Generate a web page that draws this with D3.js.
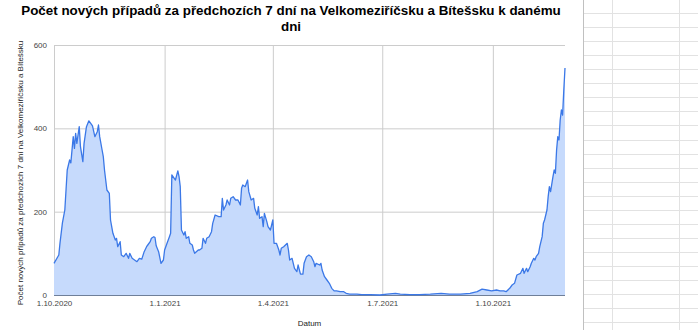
<!DOCTYPE html>
<html>
<head>
<meta charset="utf-8">
<script src="https://cdn.jsdelivr.net/npm/d3@7.9.0/dist/d3.min.js"></script>
<style>
  body { margin: 0; background: #fff; }
  svg { display: block; font-family: Arial, "Liberation Sans", sans-serif; }
</style>
</head>
<body>
<svg id="chart" width="698" height="330"></svg>
<script>
const titleLines = ['Počet nových případů za předchozích 7 dní na Velkomeziříčsku a Bítešsku k danému', 'dni'];
const xTitle = 'Datum';
const yTitle = 'Počet nových případů za předchozích 7 dní na Velkomeziříčsku a Bítešsku';

// days counted from 1.10.2020
const startDate = new Date(2020, 9, 1);
const dayOffset = [
  0, 4, 5, 7, 9, 10, 11, 13, 14, 16, 17, 18, 19, 21, 22, 24, 25, 27, 29, 31,
  32, 34, 36, 37, 38, 40, 41, 42, 44, 46, 47, 49, 51, 52, 53, 55, 56, 58, 60, 62,
  63, 65, 67, 69, 71, 73, 75, 77, 78, 80, 81, 83, 84, 85, 87, 89, 91, 92, 94, 96,
  97, 98, 100, 101, 103, 104, 105, 106, 108, 109, 110, 112, 113, 115, 116, 117, 120, 121, 123, 124,
  126, 127, 129, 131, 132, 134, 137, 139, 140, 141, 143, 144, 146, 147, 149, 151, 153, 155, 156, 157,
  159, 161, 162, 164, 166, 167, 169, 170, 171, 173, 174, 175, 177, 178, 180, 182, 183, 185, 187, 188,
  189, 191, 194, 195, 196, 198, 199, 200, 202, 203, 205, 207, 208, 210, 212, 214, 216, 217, 218, 221,
  222, 223, 225, 227, 229, 231, 233, 235, 238, 241, 243, 246, 252, 256, 263, 271, 277, 284, 288, 296,
  304, 313, 322, 329, 338, 346, 352, 356, 360, 364, 368, 371, 374, 376, 379, 381, 383, 385, 388, 390,
  391, 393, 394, 396, 397, 399, 400, 401, 403, 404, 406, 407, 408, 410, 411, 412, 413, 415, 416, 417,
  418, 419, 420, 421, 422, 423, 424, 425
];
const cases = [
  76, 96, 125, 173, 204, 252, 300, 324, 317, 380, 352, 388, 364, 404, 356, 320, 364, 404, 418, 410,
  406, 380, 392, 408, 380, 348, 332, 300, 252, 244, 180, 148, 132, 136, 116, 128, 96, 92, 100, 88,
  100, 88, 84, 80, 88, 86, 104, 116, 120, 128, 136, 140, 138, 118, 104, 76, 84, 108, 124, 140,
  148, 288, 280, 276, 298, 284, 260, 156, 144, 152, 136, 140, 124, 120, 108, 100, 108, 108, 112, 136,
  124, 136, 140, 152, 172, 192, 188, 188, 232, 204, 216, 228, 216, 232, 236, 228, 228, 216, 256, 264,
  260, 276, 248, 228, 232, 208, 192, 212, 184, 188, 164, 196, 176, 164, 156, 180, 124, 124, 108, 96,
  112, 116, 124, 108, 84, 88, 76, 64, 56, 72, 50, 50, 76, 92, 96, 92, 80, 68, 76, 72,
  76, 60, 44, 36, 28, 16, 10, 10, 8, 8, 4, 2, 2, 1, 1, 0, 2, 4, 2, 1,
  1, 2, 4, 2, 2, 4, 8, 14, 12, 10, 12, 10, 10, 8, 16, 24, 28, 48, 52, 64,
  52, 64, 56, 68, 76, 88, 84, 92, 100, 116, 140, 172, 180, 204, 236, 260, 248, 284, 300, 292,
  348, 380, 372, 420, 444, 432, 492, 545
];
const xTickDates = ['2020-10-01', '2021-01-01', '2021-04-01', '2021-07-01', '2021-10-01'];
const yTickValues = [0, 200, 400, 600];

const width = 698, height = 330;
const plot = { left: 54, right: 565, top: 45, bottom: 295 };

const svg = d3.select('#chart');

// spreadsheet cells visible to the right of the chart
const sheet = svg.append('g').attr('class', 'sheet');
sheet.selectAll('line.row')
  .data(d3.range(13, height, 14.06))
  .join('line')
    .attr('class', 'row')
    .attr('x1', 583).attr('x2', width)
    .attr('y1', d => Math.round(d) + 0.5).attr('y2', d => Math.round(d) + 0.5)
    .attr('stroke', '#e2e2e2');
sheet.selectAll('line.col')
  .data([612, 679])
  .join('line')
    .attr('class', 'col')
    .attr('x1', d => d + 0.5).attr('x2', d => d + 0.5)
    .attr('y1', 0).attr('y2', height)
    .attr('stroke', '#e2e2e2');
sheet.append('line')
  .attr('x1', 583.5).attr('x2', 583.5)
  .attr('y1', 0).attr('y2', height)
  .attr('stroke', '#c0c0c0');

const data = dayOffset.map((d, i) => ({
  date: d3.timeDay.offset(startDate, d),
  value: cases[i]
}));

const xScale = d3.scaleTime()
  .domain([startDate, d3.timeDay.offset(startDate, 425)])
  .range([plot.left, plot.right]);

const yScale = d3.scaleLinear()
  .domain([0, 600])
  .range([plot.bottom, plot.top]);

const parseDay = d3.timeParse('%Y-%m-%d');
const xTicks = xTickDates.map(parseDay);
const fmtDate = d => `${d.getDate()}.${d.getMonth() + 1}.${d.getFullYear()}`;

// gridlines
svg.append('g')
  .attr('class', 'gridlines')
  .attr('transform', `translate(${plot.left},0)`)
  .call(d3.axisLeft(yScale).tickValues(yTickValues).tickFormat('').tickSize(-(plot.right - plot.left)))
  .call(g => g.select('.domain').remove())
  .call(g => g.selectAll('line').attr('stroke', '#cccccc'));

svg.append('g')
  .attr('class', 'gridlines')
  .attr('transform', `translate(0,${plot.bottom})`)
  .call(d3.axisBottom(xScale).tickValues(xTicks).tickFormat('').tickSize(-(plot.bottom - plot.top)))
  .call(g => g.select('.domain').remove())
  .call(g => g.selectAll('line').attr('stroke', '#cccccc'));

// area + line
const area = d3.area()
  .x(d => xScale(d.date))
  .y0(yScale(0))
  .y1(d => yScale(d.value));

const line = d3.line()
  .x(d => xScale(d.date))
  .y(d => yScale(d.value));

svg.append('path')
  .datum(data)
  .attr('d', area)
  .attr('fill', '#c6dafc');

svg.append('line')
  .attr('x1', plot.left).attr('x2', plot.right)
  .attr('y1', plot.bottom + 0.5).attr('y2', plot.bottom + 0.5)
  .attr('stroke', '#6f7f99');

svg.append('path')
  .datum(data)
  .attr('d', line)
  .attr('fill', 'none')
  .attr('stroke', '#3b78e7')
  .attr('stroke-width', 1.3)
  .attr('stroke-linejoin', 'round');

// axes labels
svg.append('g')
  .attr('transform', `translate(0,${plot.bottom})`)
  .call(d3.axisBottom(xScale).tickValues(xTicks).tickFormat(fmtDate).tickSize(0).tickPadding(5))
  .call(g => g.select('.domain').remove())
  .call(g => g.selectAll('text')
    .attr('fill', '#444')
    .style('font-size', '8px')
    .style('font-family', 'Arial, "Liberation Sans", sans-serif'));

svg.append('g')
  .attr('transform', `translate(${plot.left},0)`)
  .call(d3.axisLeft(yScale).tickValues(yTickValues).tickSize(0).tickPadding(7))
  .call(g => g.select('.domain').remove())
  .call(g => g.selectAll('text')
    .attr('fill', '#444')
    .style('font-size', '8px')
    .style('font-family', 'Arial, "Liberation Sans", sans-serif'));

// titles
svg.append('text')
  .attr('text-anchor', 'middle')
  .attr('font-size', 13.4)
  .attr('font-weight', 'bold')
  .attr('fill', '#000')
  .selectAll('tspan')
  .data(titleLines)
  .join('tspan')
    .attr('x', 291)
    .attr('y', (d, i) => 15 + i * 16)
    .text(d => d);

svg.append('text')
  .attr('x', (plot.left + plot.right) / 2)
  .attr('y', 326)
  .attr('text-anchor', 'middle')
  .attr('font-size', 8)
  .attr('fill', '#222')
  .text(xTitle);

svg.append('text')
  .attr('transform', `translate(23,${(plot.top + plot.bottom) / 2 + 3}) rotate(-90)`)
  .attr('text-anchor', 'middle')
  .attr('font-size', 8)
  .attr('fill', '#222')
  .text(yTitle);
</script>
</body>
</html>
